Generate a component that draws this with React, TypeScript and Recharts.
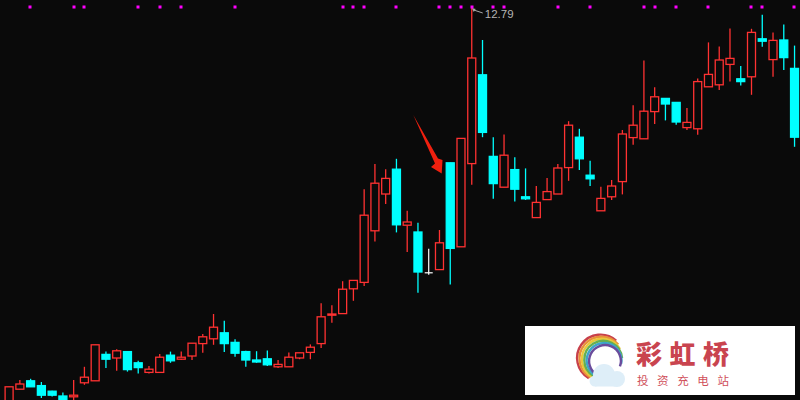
import { Bar, ComposedChart, Line, XAxis, YAxis } from "recharts";

// Daily prices, oldest first
const opens = [
  2.94, 3.26, 3.47, 3.35, 3.21, 3.09, 3.07, 3.42, 3.47, 4.13, 4.04, 4.2, 3.92, 3.68, 3.68, 4.11, 4.01, 4.09, 4.4,
  4.52, 4.67, 4.43, 4.2, 3.99, 4.02, 3.82, 3.82, 4.04, 4.18, 4.4, 5.11, 5.15, 5.77, 5.93, 7.22, 8.14, 8.76, 7.36,
  7.19, 6.17, 6.25, 8.92, 6.82, 8.9, 11.12, 9.08, 8.31, 8.75, 8.07, 7.55, 8.0, 8.14, 8.8, 9.56, 8.61, 7.72, 8.07,
  8.45, 9.55, 9.52, 10.2, 10.53, 10.43, 9.8, 9.77, 10.82, 10.87, 11.38, 11.02, 11.07, 12.02, 11.5, 11.99, 11.28,
];
const closes = [
  3.32, 3.39, 3.32, 3.11, 3.11, 2.96, 3.11, 3.56, 4.37, 4.01, 4.22, 3.75, 3.8, 3.76, 4.06, 3.97, 4.06, 4.41, 4.57,
  4.81, 4.4, 4.16, 3.99, 3.94, 3.87, 3.88, 4.06, 4.17, 4.31, 5.07, 5.14, 5.76, 5.98, 7.61, 8.41, 8.53, 7.37, 7.44,
  6.19, 6.17, 6.92, 6.78, 9.53, 11.54, 9.68, 8.4, 9.11, 8.26, 8.02, 7.93, 8.2, 8.79, 9.86, 9.02, 8.52, 8.03, 8.34,
  9.64, 9.86, 10.21, 10.57, 10.39, 9.94, 9.93, 10.95, 11.13, 11.49, 11.53, 10.95, 12.18, 11.96, 11.98, 11.55, 9.56,
];
const highs = [
  3.32, 3.49, 3.52, 3.44, 3.22, 3.18, 3.49, 3.82, 4.37, 4.2, 4.26, 4.2, 3.97, 3.84, 4.14, 4.2, 4.2, 4.41, 4.64,
  5.14, 4.97, 4.51, 4.22, 4.21, 4.23, 3.99, 4.18, 4.17, 4.38, 5.41, 5.36, 5.96, 5.98, 8.26, 8.89, 8.76, 9.02, 7.72,
  7.42, 6.77, 7.24, 8.92, 9.53, 12.79, 11.99, 9.56, 9.63, 9.06, 8.78, 8.34, 8.54, 8.89, 9.96, 9.77, 8.97, 8.32, 8.49,
  9.74, 10.36, 11.48, 10.81, 10.53, 10.43, 10.29, 11.03, 11.93, 11.83, 12.28, 11.34, 12.27, 12.62, 12.18, 12.38, 11.85,
];
const lows = [
  2.94, 3.26, 3.32, 3.04, 3.08, 2.96, 2.99, 3.37, 3.47, 3.79, 3.72, 3.7, 3.65, 3.65, 3.68, 3.92, 3.99, 3.99, 4.17,
  4.37, 4.19, 4.07, 3.82, 3.92, 3.84, 3.79, 3.82, 4.01, 4.01, 4.29, 4.92, 5.15, 5.47, 5.84, 6.95, 7.89, 7.18, 6.69,
  5.67, 6.12, 6.25, 5.88, 6.82, 8.37, 9.56, 8.02, 8.31, 7.95, 7.99, 7.55, 8.0, 8.14, 8.47, 8.74, 8.34, 7.72, 7.99,
  8.13, 9.37, 9.52, 9.89, 9.98, 9.87, 9.74, 9.62, 10.82, 10.74, 10.95, 10.85, 10.62, 11.82, 11.07, 11.24, 9.32,
];
// Days that carry a magenta marker in the top row
const markerDays = [
  2, 6, 7, 12, 14, 16, 21, 31, 32, 33, 36, 40, 41, 42, 43, 45, 46, 51, 54, 59, 60, 62, 65, 69, 70, 73,
];
const markerLevel = 12.82;
const maxHigh = Math.max(...highs);

const data = opens.map((open, i) => ({
  day: i,
  open,
  close: closes[i],
  high: highs[i],
  low: lows[i],
  range: [lows[i], highs[i]],
  marker: markerDays.includes(i) ? markerLevel : null,
}));

const RED = "#ff3232";
const CYAN = "#00ffff";

const Candle = (props: any) => {
  const { x, y, width, height, payload } = props;
  const { open, close, high, low } = payload;
  const perUnit = height / (high - low);
  const cx = x + width / 2;
  const yOpen = y + (high - open) * perUnit;
  const yClose = y + (high - close) * perUnit;
  const bodyTop = Math.min(yOpen, yClose);
  const bodyBottom = Math.max(yOpen, yClose);
  const isPeak = high === maxHigh;

  if (open === close) {
    // flat day: white cross
    return (
      <g stroke="#ffffff" strokeWidth={1.2}>
        <line x1={cx} x2={cx} y1={y} y2={y + height} />
        <line x1={cx - 4} x2={cx + 4} y1={yOpen} y2={yOpen} />
      </g>
    );
  }

  const up = close > open;
  const color = up ? RED : CYAN;
  return (
    <g>
      <line x1={cx} x2={cx} y1={y} y2={y + height} stroke={color} strokeWidth={1.3} />
      <rect
        x={cx - 4}
        y={bodyTop}
        width={8}
        height={Math.max(bodyBottom - bodyTop, 1)}
        stroke={color}
        strokeWidth={1.3}
        fill={up ? "#0a0a0a" : CYAN}
      />
      {isPeak && (
        <g>
          <polygon points={`${cx},${y} ${cx + 4},${y + 1} ${cx + 2},${y + 4}`} fill="#a8a8a8" />
          <line x1={cx + 2} y1={y + 2} x2={cx + 11} y2={y + 5} stroke="#a8a8a8" />
          <text
            x={cx + 13}
            y={y + 10}
            fill="#b4b4b4"
            fontSize={11.5}
            fontFamily="'Liberation Sans', Arial, sans-serif"
          >
            {high.toFixed(2)}
          </text>
        </g>
      )}
    </g>
  );
};

const MarkerDot = ({ cx, cy, value }: any) => {
  if (value == null) return <g />;
  return <rect x={Math.round(cx) - 1.5} y={Math.round(cy) - 1.5} width={3} height={3} fill="#ff00ff" />;
};

// Rainbow rings of the logo, outside to inside
const ringColors = ["#c8404a", "#e8913a", "#e8c83a", "#68b04e", "#3da5c9", "#6a4c9c"];
const ringEnds = [312, 320, 330, 355, 370, 380];

const arcPath = (cx: number, cy: number, r: number, from: number, to: number) => {
  const rad = Math.PI / 180;
  const x1 = cx + r * Math.cos(from * rad);
  const y1 = cy + r * Math.sin(from * rad);
  const x2 = cx + r * Math.cos(to * rad);
  const y2 = cy + r * Math.sin(to * rad);
  return `M${x1} ${y1} A${r} ${r} 0 ${to - from > 180 ? 1 : 0} 1 ${x2} ${y2}`;
};

const Overlay = () => (
  <svg width={800} height={400} style={{ position: "absolute", left: 0, top: 0 }}>
    {/* hand drawn arrow pointing at the big candle */}
    <polygon
      points="413.3,115 438,158.5 442.5,160 441.7,173.5 431,167 435,163.5"
      fill="#f0200f"
    />
    {/* watermark */}
    <rect x={525} y={326} width={270} height={69} fill="#ffffff" />
    {ringColors.map((c, i) => (
      <path
        key={c}
        d={arcPath(600.5 + i * 0.9, 358 + i * 0.6, 23.4 - i * 1.5, 120, ringEnds[i])}
        stroke={c}
        strokeWidth={2.4}
        fill="none"
      />
    ))}
    <g fill="#deeef8">
      <circle cx={604} cy={375} r={11} />
      <circle cx={617} cy={379} r={8} />
      <circle cx={595} cy={381} r={5.5} />
      <rect x={595} y={378} width={22} height={8.5} />
    </g>
    <text
      x={636}
      y={363.5}
      fill="#c9444f"
      fontSize={26}
      fontWeight={900}
      letterSpacing={7.5}
      fontFamily="'Noto Sans CJK SC', sans-serif"
    >
      彩虹桥
    </text>
    <text
      x={637}
      y={384.5}
      fill="#d0505a"
      fontSize={11.5}
      letterSpacing={8.6}
      fontFamily="'Noto Sans CJK SC', sans-serif"
    >
      投资充电站
    </text>
  </svg>
);

export default function App() {
  return (
    <div
      style={{
        position: "absolute",
        left: 0,
        top: 0,
        width: 800,
        height: 400,
        overflow: "hidden",
        background: "#0a0a0a",
      }}
    >
      <ComposedChart
        width={800}
        height={400}
        data={data}
        margin={{ top: 0, right: 0.2, bottom: 0, left: 3.6 }}
      >
        <XAxis dataKey="day" hide />
        <YAxis hide domain={[2.99, 12.99]} allowDataOverflow />
        <Bar dataKey="range" barSize={9} shape={Candle} isAnimationActive={false} />
        <Line
          dataKey="marker"
          stroke="none"
          dot={MarkerDot}
          activeDot={false}
          connectNulls={false}
          isAnimationActive={false}
        />
      </ComposedChart>
      <Overlay />
    </div>
  );
}
